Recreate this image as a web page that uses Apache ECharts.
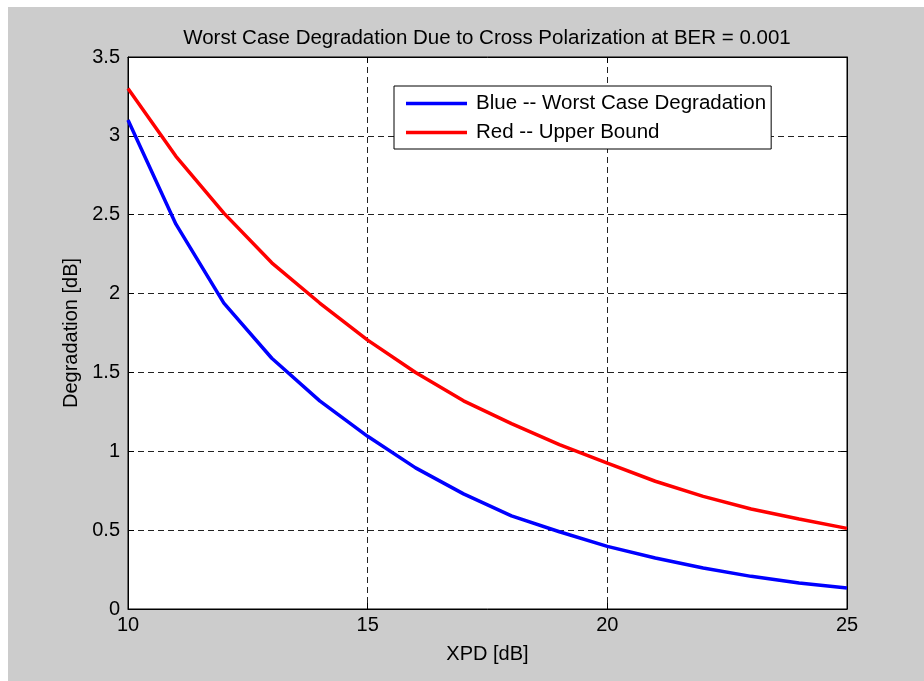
<!DOCTYPE html>
<html>
<head>
<meta charset="utf-8">
<title>Worst Case Degradation Due to Cross Polarization</title>
<script src="https://cdn.jsdelivr.net/npm/echarts@6/dist/echarts.min.js"></script>
<style>
  html, body { margin: 0; padding: 0; background: #ffffff; }
  #chart { position: absolute; left: 8px; top: 7px; width: 916px; height: 674px; background: #cccccc; }
</style>
</head>
<body>
<div id="chart"></div>
<script>
// XPD values in dB
const xpd = [10, 11, 12, 13, 14, 15, 16, 17, 18, 19, 20, 21, 22, 23, 24, 25];
// Worst case degradation in dB
const worstCase = [3.10, 2.44, 1.94, 1.59, 1.32, 1.095, 0.895, 0.73, 0.59, 0.49, 0.397, 0.323, 0.26, 0.207, 0.165, 0.133];
// Upper bound on degradation in dB
const upperBound = [3.30, 2.87, 2.51, 2.195, 1.94, 1.705, 1.50, 1.32, 1.175, 1.042, 0.925, 0.81, 0.714, 0.634, 0.571, 0.511];

const seriesNames = ['Blue -- Worst Case Degradation', 'Red -- Upper Bound'];
const titleText = 'Worst Case Degradation Due to Cross Polarization at BER = 0.001';

const FONT = "'Liberation Sans', Arial, Helvetica, sans-serif";

const pairs = (xs, ys) => xs.map((x, i) => [x, ys[i]]);

const chart = echarts.init(document.getElementById('chart'), null, { renderer: 'canvas' });

const gridDash = { color: '#222', width: 1, type: [6, 4] };
const frameAxisLine = { show: true, onZero: false, lineStyle: { color: '#000', width: 1 } };
const innerTick = { show: true, inside: true, length: 6, lineStyle: { color: '#000', width: 1 } };

chart.setOption({
  animation: false,
  backgroundColor: '#cccccc',
  textStyle: { fontFamily: FONT },
  title: {
    text: titleText,
    left: 479,
    top: 21,
    padding: 0,
    textAlign: 'center',
    textStyle: { fontFamily: FONT, fontSize: 20.5, fontWeight: 'normal', color: '#000' }
  },
  grid: {
    left: 120, top: 50, right: 77, bottom: 72,
    show: true, backgroundColor: '#ffffff', borderColor: '#000', borderWidth: 1
  },
  legend: {
    data: seriesNames,
    orient: 'vertical',
    left: 386,
    top: 79,
    padding: [7, 5, 6, 12],
    itemGap: 8,
    itemWidth: 61,
    itemHeight: 3.5,
    icon: 'rect',
    backgroundColor: '#ffffff',
    borderColor: '#000',
    borderWidth: 1,
    borderRadius: 0,
    textStyle: { fontFamily: FONT, fontSize: 20.5, color: '#000', lineHeight: 20, padding: [0, 0, 0, 4] }
  },
  xAxis: [
    {
      type: 'value', min: 10, max: 25, interval: 5,
      name: 'XPD [dB]', nameLocation: 'middle', nameGap: 35,
      nameTextStyle: { fontFamily: FONT, fontSize: 20, color: '#000' },
      axisLine: frameAxisLine, axisTick: innerTick,
      axisLabel: { fontFamily: FONT, fontSize: 20, color: '#000', margin: 6 },
      splitLine: { show: true, lineStyle: gridDash }
    },
    {
      type: 'value', min: 10, max: 25, interval: 5, position: 'top',
      axisLine: frameAxisLine, axisTick: innerTick,
      axisLabel: { show: false }, splitLine: { show: false }
    }
  ],
  yAxis: [
    {
      type: 'value', min: 0, max: 3.5, interval: 0.5,
      name: 'Degradation [dB]', nameLocation: 'middle', nameGap: 45,
      nameTextStyle: { fontFamily: FONT, fontSize: 20, color: '#000' },
      axisLine: frameAxisLine, axisTick: innerTick,
      axisLabel: { fontFamily: FONT, fontSize: 20, color: '#000', margin: 8 },
      splitLine: { show: true, lineStyle: gridDash }
    },
    {
      type: 'value', min: 0, max: 3.5, interval: 0.5, position: 'right',
      axisLine: frameAxisLine, axisTick: innerTick,
      axisLabel: { show: false }, splitLine: { show: false }
    }
  ],
  series: [
    {
      name: seriesNames[0], type: 'line', data: pairs(xpd, worstCase),
      xAxisIndex: 0, yAxisIndex: 0,
      symbol: 'none', showSymbol: false, smooth: false,
      lineStyle: { color: '#0000ff', width: 3.5 }, itemStyle: { color: '#0000ff' },
      z: 3
    },
    {
      name: seriesNames[1], type: 'line', data: pairs(xpd, upperBound),
      xAxisIndex: 0, yAxisIndex: 0,
      symbol: 'none', showSymbol: false, smooth: false,
      lineStyle: { color: '#ff0000', width: 3.5 }, itemStyle: { color: '#ff0000' },
      z: 4
    }
  ]
});
</script>
</body>
</html>
